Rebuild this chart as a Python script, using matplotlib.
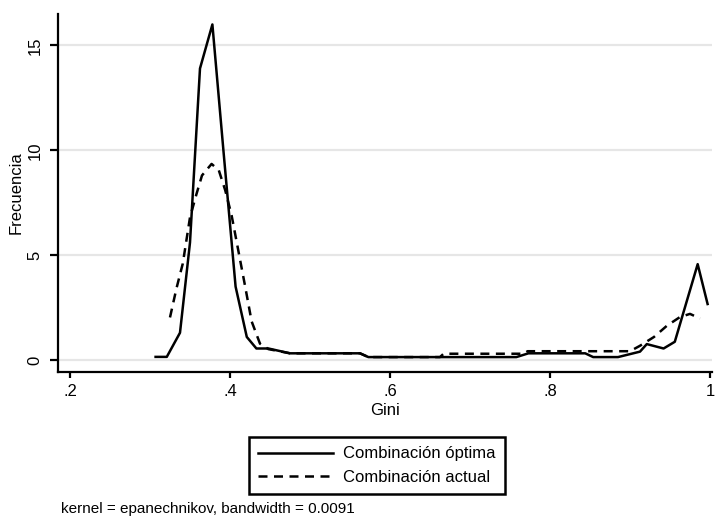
import matplotlib
matplotlib.use("Agg")
import matplotlib.pyplot as plt
from matplotlib.ticker import FixedLocator

plt.rcParams["font.family"] = ["Liberation Sans", "DejaVu Sans"]

# kernel density estimates
optima_x = [0.307, 0.321, 0.3375, 0.35, 0.3625, 0.378, 0.392, 0.407, 0.421, 0.433,
            0.448, 0.475, 0.5625, 0.573, 0.758, 0.773, 0.844, 0.854, 0.885, 0.9125,
            0.921, 0.942, 0.956, 0.9846, 0.997]
optima_y = [0.15, 0.15, 1.3, 5.6, 13.9, 16.0, 9.9, 3.5, 1.1, 0.55,
            0.55, 0.32, 0.32, 0.14, 0.14, 0.32, 0.32, 0.14, 0.14, 0.4,
            0.76, 0.55, 0.87, 4.57, 2.67]

actual_x = [0.325, 0.333, 0.341, 0.35, 0.358, 0.365, 0.377, 0.386, 0.394, 0.402,
            0.41, 0.419, 0.427, 0.4375, 0.448, 0.475, 0.5625, 0.573, 0.6625, 0.667,
            0.767, 0.772, 0.9, 0.9125, 0.93, 0.946, 0.9625, 0.975, 0.9875]
actual_y = [2.03, 3.4, 4.6, 6.8, 7.9, 8.8, 9.35, 9.05, 8.1, 6.9,
            5.3, 3.5, 1.85, 0.78, 0.52, 0.32, 0.32, 0.14, 0.14, 0.3,
            0.3, 0.42, 0.42, 0.68, 1.1, 1.63, 2.05, 2.2, 1.98]

x_ticks = [0.2, 0.4, 0.6, 0.8, 1.0]
x_labels = [".2", ".4", ".6", ".8", "1"]
y_ticks = [0, 5, 10, 15]
y_labels = ["0", "5", "10", "15"]

fig = plt.figure(figsize=(7.15, 5.17), dpi=100, facecolor="white")
ax = fig.add_axes([0.0811, 0.2805, 0.9147, 0.6925])

for yv in y_ticks:
    ax.axhline(yv, color="#e6e6e6", lw=1.6, zorder=0)

ax.plot(optima_x, optima_y, color="black", lw=1.8, label="Combinación óptima")
ax.plot(actual_x, actual_y, color="black", lw=1.8, dashes=(3.6, 2.6),
        label="Combinación actual")

ax.set_xlim(0.185, 1.0025)
ax.set_ylim(-0.57, 16.5)
ax.xaxis.set_major_locator(FixedLocator(x_ticks))
ax.set_xticklabels(x_labels)
ax.yaxis.set_major_locator(FixedLocator(y_ticks))
ax.set_yticklabels(y_labels, rotation=90, va="center")

for side in ["top", "right"]:
    ax.spines[side].set_visible(False)
for side in ["left", "bottom"]:
    ax.spines[side].set_linewidth(1.6)
ax.tick_params(axis="both", direction="out", width=1.6, labelsize=12)
ax.tick_params(axis="x", length=4.5, pad=4)
ax.tick_params(axis="y", length=6, pad=5)

ax.set_xlabel("Gini", fontsize=12, labelpad=3)
ax.set_ylabel("Frecuencia", fontsize=12, labelpad=3)

leg = fig.legend(loc="center", bbox_to_anchor=(0.527, 0.0996), ncol=1,
                 fontsize=12, frameon=True, fancybox=False, handlelength=4.5,
                 handletextpad=0.6, borderpad=0.55, borderaxespad=0,
                 labelspacing=0.5, edgecolor="black", framealpha=1)
leg.get_frame().set_linewidth(1.8)

fig.text(0.085, 0.008, "kernel = epanechnikov, bandwidth = 0.0091", fontsize=11, ha="left")

fig.savefig("out.png", dpi=100, facecolor="white")
